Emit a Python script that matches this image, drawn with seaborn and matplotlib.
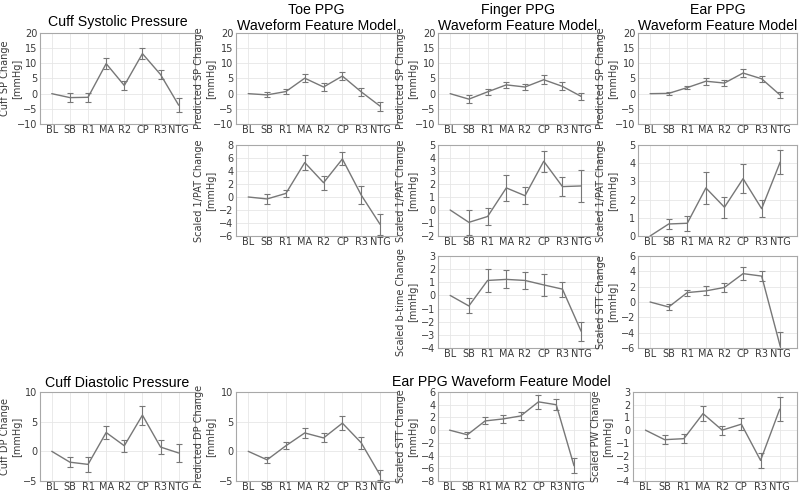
import numpy as np
import pandas as pd
import matplotlib
matplotlib.use("Agg")
import matplotlib.pyplot as plt
import seaborn as sns

# ---------------- data ----------------
conditions = ["BL", "SB", "R1", "MA", "R2", "CP", "R3", "NTG"]

cuff_sp = [0, -1.3, -1.2, 9.9, 2.7, 13.2, 6.3, -3.8]
cuff_sp_err = [np.nan, 1.5, 1.5, 1.8, 1.6, 1.9, 1.4, 2.4]

toe_sp = [0, -0.4, 0.7, 5.1, 2.2, 5.8, 0.6, -4.1]
toe_sp_err = [np.nan, 0.8, 0.8, 1.4, 1.2, 1.2, 1.4, 1.5]

finger_sp = [0, -1.8, 0.6, 2.9, 2.2, 4.6, 2.4, -0.9]
finger_sp_err = [np.nan, 1.2, 1.0, 1.1, 1.0, 1.4, 1.3, 1.2]

ear_sp = [0, 0.1, 2.0, 4.1, 3.5, 6.8, 4.9, -0.5]
ear_sp_err = [np.nan, 0.4, 0.6, 1.1, 1.0, 1.3, 0.9, 0.9]

toe_pat = [0, -0.3, 0.55, 5.3, 2.2, 5.85, 0.3, -4.2]
toe_pat_err = [np.nan, 0.75, 0.6, 1.2, 1.05, 1.0, 1.35, 1.6]

finger_pat = [0, -0.95, -0.5, 1.7, 1.1, 3.75, 1.8, 1.85]
finger_pat_err = [np.nan, 0.97, 0.67, 0.97, 0.65, 0.8, 0.75, 1.22]

ear_pat = [0, 0.66, 0.7, 2.64, 1.58, 3.15, 1.5, 4.07]
ear_pat_err = [np.nan, 0.26, 0.4, 0.87, 0.58, 0.78, 0.48, 0.67]

finger_btime = [0, -0.8, 1.14, 1.22, 1.14, 0.8, 0.48, -2.73]
finger_btime_err = [np.nan, 0.57, 0.9, 0.68, 0.67, 0.83, 0.57, 0.7]

ear_stt = [0, -0.65, 1.23, 1.45, 1.9, 3.7, 3.38, -5.8]
ear_stt_err = [np.nan, 0.33, 0.4, 0.6, 0.6, 0.88, 0.7, 1.9]

cuff_dp = [0, -1.83, -2.2, 3.17, 0.94, 6.1, 0.72, -0.28]
cuff_dp_err = [np.nan, 0.83, 1.2, 1.03, 0.97, 1.6, 1.25, 1.6]

toe_dp = [0, -1.43, 0.94, 3.1, 2.26, 4.75, 1.44, -4.0]
toe_dp_err = [np.nan, 0.5, 0.55, 0.83, 0.75, 1.2, 1.0, 0.8]

ear_stt_dp = [0, -0.73, 1.45, 1.76, 2.23, 4.45, 4.0, -5.6]
ear_stt_dp_err = [np.nan, 0.5, 0.55, 0.65, 0.7, 1.1, 0.85, 1.2]

ear_pw_dp = [0, -0.75, -0.67, 1.3, 0.0, 0.47, -2.38, 1.65]
ear_pw_dp_err = [np.nan, 0.37, 0.37, 0.62, 0.35, 0.48, 0.57, 0.95]

# ---------------- style ----------------
sns.set_style("whitegrid")
plt.rcParams["font.family"] = ["DejaVu Sans"]

LINE = "#777777"
TXT = "#3a3a3a"
W, H = 800, 493
fig = plt.figure(figsize=(8, 4.93), dpi=100)


def add_ax(x0, y0, x1, y1):
    return fig.add_axes([x0 / W, 1 - y1 / H, (x1 - x0) / W, (y1 - y0) / H])


def draw(box, vals, errs, yticks, ylabel, title=None, title_pad=3, label_off=20):
    ax = add_ax(*box)
    x = np.arange(len(conditions))
    df = pd.DataFrame({"x": x, "y": vals})
    sns.lineplot(data=df, x="x", y="y", ax=ax, color=LINE, lw=1.0)
    e = np.array(errs, dtype=float)
    v = np.array(vals, dtype=float)
    m = ~np.isnan(e)
    ax.errorbar(x[m], v[m], yerr=e[m], fmt="none", ecolor=LINE,
                elinewidth=0.8, capsize=2.0, capthick=0.8)
    ax.set_xlim(-0.65, 7.9)
    ax.set_ylim(yticks[0], yticks[-1])
    ax.set_yticks(yticks)
    ax.set_xticks(x)
    ax.set_xticklabels(conditions)
    ax.set_xlabel("")
    ax.set_ylabel(ylabel, fontsize=7, color=TXT, linespacing=1.2)
    wpx = box[2] - box[0]
    ax.yaxis.set_label_coords(-label_off / wpx, 0.5)
    ax.tick_params(axis="both", labelsize=7, colors=TXT, length=0)
    ax.tick_params(axis="x", pad=1.0)
    ax.tick_params(axis="y", pad=2.0)
    ax.grid(True, color="#e6e6e6", lw=0.6)
    for s in ax.spines.values():
        s.set_visible(True)
        s.set_color("#a8a8a8")
        s.set_linewidth(0.8)
    if title:
        ax.set_title(title, fontsize=10.2, family="Liberation Sans",
                     color="black", pad=title_pad, linespacing=1.15)
    return ax


cols = [(40, 195), (236, 397), (438, 598), (638, 797)]
rows = [(33, 124), (145, 236), (256, 348), (392, 481)]


def box(r, c):
    return (cols[c][0], rows[r][0], cols[c][1], rows[r][1])


sp_ticks = list(range(-10, 21, 5))
draw(box(0, 0), cuff_sp, cuff_sp_err, sp_ticks, "Cuff SP Change\n[mmHg]",
     "Cuff Systolic Pressure", title_pad=5, label_off=18)
draw(box(0, 1), toe_sp, toe_sp_err, sp_ticks, "Predicted SP Change\n[mmHg]",
     "Toe PPG\nWaveform Feature Model", title_pad=2.5)
draw(box(0, 2), finger_sp, finger_sp_err, sp_ticks, "Predicted SP Change\n[mmHg]",
     "Finger PPG\nWaveform Feature Model", title_pad=2.5)
draw(box(0, 3), ear_sp, ear_sp_err, sp_ticks, "Predicted SP Change\n[mmHg]",
     "Ear PPG\nWaveform Feature Model", title_pad=2.5)

draw(box(1, 1), toe_pat, toe_pat_err, list(range(-6, 9, 2)), "Scaled 1/PAT Change\n[mmHg]")
draw(box(1, 2), finger_pat, finger_pat_err, list(range(-2, 6, 1)), "Scaled 1/PAT Change\n[mmHg]")
draw(box(1, 3), ear_pat, ear_pat_err, list(range(0, 6, 1)), "Scaled 1/PAT Change\n[mmHg]")

draw(box(2, 2), finger_btime, finger_btime_err, list(range(-4, 4, 1)), "Scaled b-time Change\n[mmHg]")
draw(box(2, 3), ear_stt, ear_stt_err, list(range(-6, 7, 2)), "Scaled STT Change\n[mmHg]")

dp_ticks = [-5, 0, 5, 10]
draw(box(3, 0), cuff_dp, cuff_dp_err, dp_ticks, "Cuff DP Change\n[mmHg]",
     "Cuff Diastolic Pressure", title_pad=3.5, label_off=18)
draw(box(3, 1), toe_dp, toe_dp_err, dp_ticks, "Predicted DP Change\n[mmHg]")
draw((438, 392, 590, 481), ear_stt_dp, ear_stt_dp_err, list(range(-8, 7, 2)), "Scaled STT Change\n[mmHg]")
draw((633, 392, 797, 481), ear_pw_dp, ear_pw_dp_err, list(range(-4, 4, 1)), "Scaled PW Change\n[mmHg]")

fig.text(501 / W, 1 - 386 / H, "Ear PPG Waveform Feature Model", ha="center",
         va="baseline", fontsize=10.2, family="Liberation Sans", color="black")

fig.savefig("out.png", dpi=100)
